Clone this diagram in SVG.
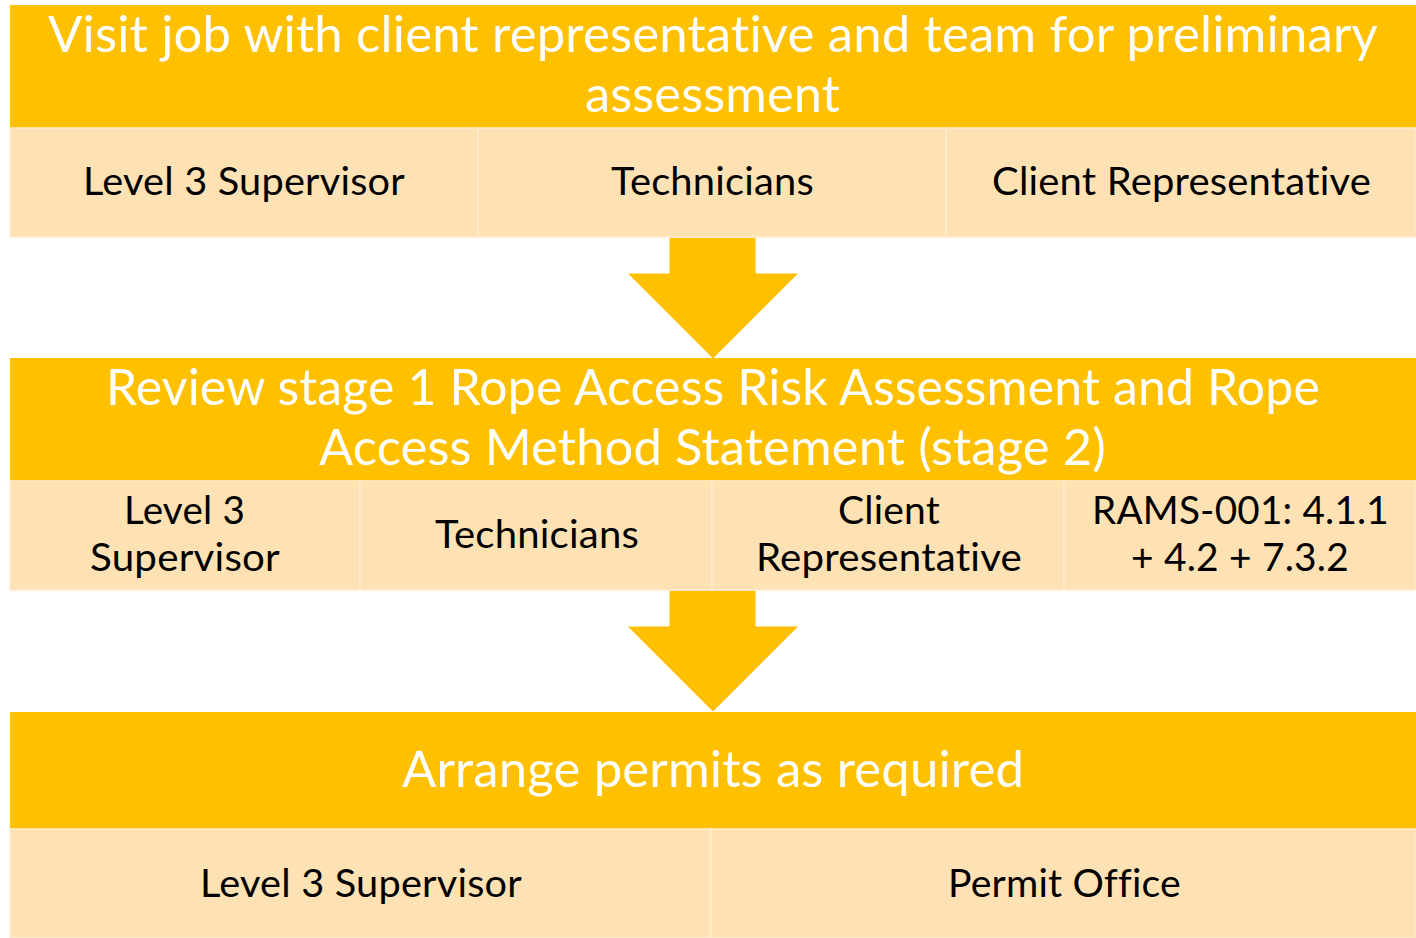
<svg xmlns="http://www.w3.org/2000/svg" width="1416" height="938" viewBox="0 0 1416 938">
<style>
.hdr{fill:#FFC000}
.cell{fill:#FEE2B4;stroke:#FFEBD0;stroke-width:1.5}
.arrow{fill:#FFC000;stroke:#FFFFFF;stroke-width:1}
.ht,.ct{font-family:Lato,"Open Sans","Liberation Sans",sans-serif;font-variant-ligatures:none;font-feature-settings:"liga" 0,"dlig" 0,"calt" 0,"clig" 0;letter-spacing:0.2px}
.ht{font-size:51px;fill:#FFFFFF}
.ct{font-size:39px;fill:#000000}
</style>
<rect width="1416" height="938" fill="#FFFFFF"/>
<g id="connectors">
<polygon class="arrow" points="669,237 756,237 756,273 799,273 713,359 627,273 669,273"/>
<polygon class="arrow" points="669,590 756,590 756,626 799,626 713,712 627,626 669,626"/>
</g>
<g id="step1">
<rect class="hdr" x="10" y="5" width="1406" height="123"/>
<text class="ht" x="48" y="52" textLength="1330" lengthAdjust="spacingAndGlyphs">Visit job with client representative and team for preliminary</text>
<text class="ht" x="585" y="112" textLength="255" lengthAdjust="spacingAndGlyphs">assessment</text>
</g>
<g id="step1-level3">
<rect class="cell" x="10" y="128" width="468" height="109"/>
<text class="ct" x="83" y="195" textLength="322" lengthAdjust="spacingAndGlyphs">Level 3 Supervisor</text>
</g>
<g id="step1-technicians">
<rect class="cell" x="478" y="128" width="468" height="109"/>
<text class="ct" x="611" y="195" textLength="203" lengthAdjust="spacingAndGlyphs">Technicians</text>
</g>
<g id="step1-client">
<rect class="cell" x="946" y="128" width="470" height="109"/>
<text class="ct" x="992" y="195" textLength="379" lengthAdjust="spacingAndGlyphs">Client Representative</text>
</g>
<g id="step2">
<rect class="hdr" x="10" y="358" width="1406" height="123"/>
<text class="ht" x="106" y="405" textLength="1214" lengthAdjust="spacingAndGlyphs">Review stage 1 Rope Access Risk Assessment and Rope</text>
<text class="ht" x="319" y="465" textLength="787" lengthAdjust="spacingAndGlyphs">Access Method Statement (stage 2)</text>
</g>
<g id="step2-level3">
<rect class="cell" x="10" y="481" width="350" height="109"/>
<text class="ct" x="124" y="524" textLength="121" lengthAdjust="spacingAndGlyphs">Level 3</text>
<text class="ct" x="90" y="571" textLength="190" lengthAdjust="spacingAndGlyphs">Supervisor</text>
</g>
<g id="step2-technicians">
<rect class="cell" x="360" y="481" width="352" height="109"/>
<text class="ct" x="435" y="548" textLength="204" lengthAdjust="spacingAndGlyphs">Technicians</text>
</g>
<g id="step2-client">
<rect class="cell" x="712" y="481" width="352" height="109"/>
<text class="ct" x="838" y="524" textLength="102" lengthAdjust="spacingAndGlyphs">Client</text>
<text class="ct" x="756" y="571" textLength="266" lengthAdjust="spacingAndGlyphs">Representative</text>
</g>
<g id="step2-rams">
<rect class="cell" x="1064" y="481" width="352" height="109"/>
<text class="ct" x="1092" y="524" textLength="297" lengthAdjust="spacingAndGlyphs">RAMS-001: 4.1.1</text>
<text class="ct" x="1131" y="571" textLength="218" lengthAdjust="spacingAndGlyphs">+ 4.2 + 7.3.2</text>
</g>
<g id="step3">
<rect class="hdr" x="10" y="712" width="1406" height="117"/>
<text class="ht" x="402" y="787" textLength="622" lengthAdjust="spacingAndGlyphs">Arrange permits as required</text>
</g>
<g id="step3-level3">
<rect class="cell" x="10" y="829" width="701" height="109"/>
<text class="ct" x="200" y="897" textLength="322" lengthAdjust="spacingAndGlyphs">Level 3 Supervisor</text>
</g>
<g id="step3-permit">
<rect class="cell" x="711" y="829" width="705" height="109"/>
<text class="ct" x="948" y="897" textLength="233" lengthAdjust="spacingAndGlyphs">Permit Office</text>
</g>
</svg>
